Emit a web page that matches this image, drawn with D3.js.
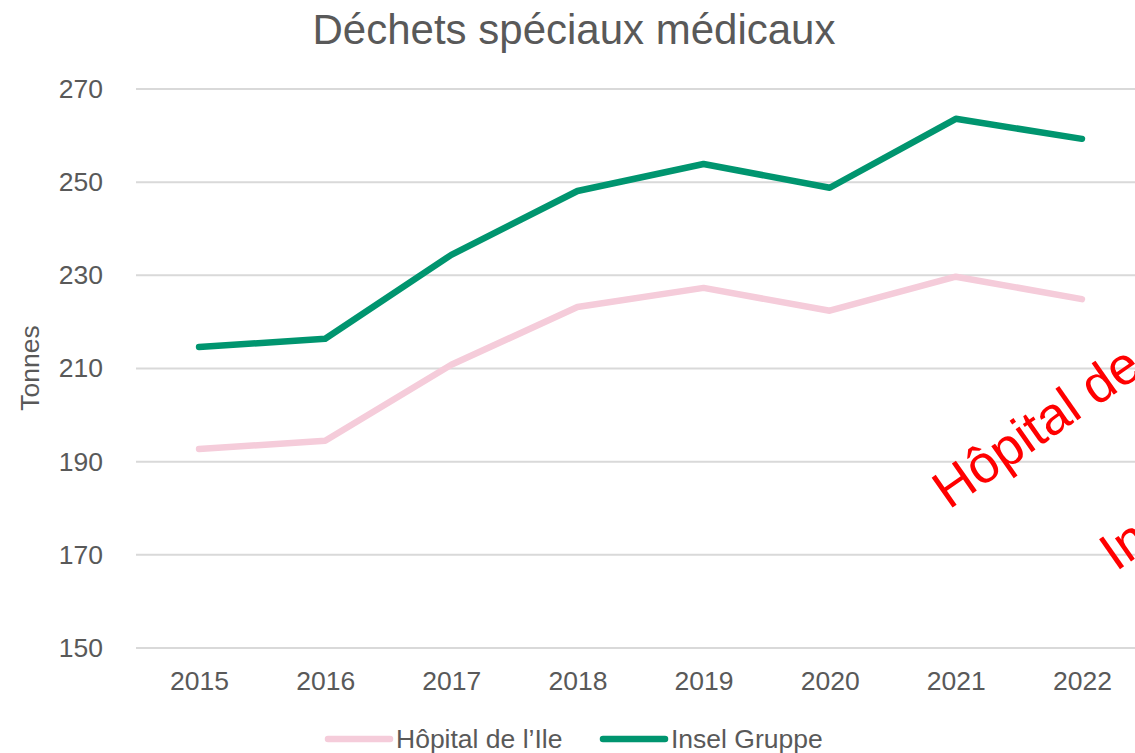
<!DOCTYPE html>
<html>
<head>
<meta charset="utf-8">
<script src="https://cdn.jsdelivr.net/npm/d3@7"></script>
<style>
  html, body { margin: 0; padding: 0; background: #fff; }
  #chart { width: 1135px; height: 753px; overflow: hidden; }
  text { font-family: Arial, "Liberation Sans", sans-serif; }
</style>
</head>
<body>
<div id="chart"></div>
<script>
// data
var years = ["2015", "2016", "2017", "2018", "2019", "2020", "2021", "2022"];
var hopital = [192.7, 194.5, 210.8, 223.2, 227.3, 222.4, 229.7, 224.9];
var insel = [214.6, 216.4, 234.4, 248.1, 253.9, 248.8, 263.6, 259.3];
var yTicks = [150, 170, 190, 210, 230, 250, 270];
var seriesNames = ["Hôpital de l\u2019Ile", "Insel Gruppe"];
var seriesColors = ["#F5CCDA", "#00956F"];

var width = 1135, height = 753;
var margin = {top: 89, right: -10, bottom: 105, left: 136};

var svg = d3.select("#chart").append("svg")
    .attr("width", width)
    .attr("height", height);

// scales
var x = d3.scalePoint()
    .domain(years)
    .range([margin.left, width - margin.right])
    .padding(0.5);
var y = d3.scaleLinear()
    .domain([150, 270])
    .range([height - margin.bottom, margin.top]);

// gridlines
svg.append("g")
    .selectAll("line")
    .data(yTicks)
  .enter().append("line")
    .attr("x1", margin.left)
    .attr("x2", width - margin.right)
    .attr("y1", function(d) { return y(d); })
    .attr("y2", function(d) { return y(d); })
    .attr("stroke", "#D9D9D9")
    .attr("stroke-width", 2);

// y axis labels
var yAxis = svg.append("g")
    .attr("transform", "translate(" + (margin.left - 33) + ",0)")
    .call(d3.axisLeft(y).tickValues(yTicks).tickSize(0).tickPadding(0));
yAxis.select(".domain").remove();
yAxis.selectAll("text")
    .attr("fill", "#595959")
    .style("font-size", "26.5px");

// x axis labels
var xAxis = svg.append("g")
    .attr("transform", "translate(0," + (height - margin.bottom + 23) + ")")
    .call(d3.axisBottom(x).tickSize(0).tickPadding(0));
xAxis.select(".domain").remove();
xAxis.selectAll("text")
    .attr("fill", "#595959")
    .style("font-size", "26.5px");

// title
svg.append("text")
    .attr("x", 574)
    .attr("y", 44)
    .attr("text-anchor", "middle")
    .attr("fill", "#595959")
    .style("font-size", "42px")
    .text("Déchets spéciaux médicaux");

// y axis title
svg.append("text")
    .attr("transform", "translate(39,368) rotate(-90)")
    .attr("text-anchor", "middle")
    .attr("fill", "#595959")
    .style("font-size", "26.5px")
    .text("Tonnes");

// lines
var line = d3.line()
    .x(function(d, i) { return x(years[i]); })
    .y(function(d) { return y(d); });

[hopital, insel].forEach(function(s, i) {
  svg.append("path")
      .datum(s)
      .attr("fill", "none")
      .attr("stroke", seriesColors[i])
      .attr("stroke-width", 6.5)
      .attr("stroke-linejoin", "round")
      .attr("stroke-linecap", "round")
      .attr("d", line);
});

// stray red labels, cut off by the right edge
var redLabels = [
  {name: seriesNames[0], x: 949, y: 510},
  {name: seriesNames[1], x: 1116, y: 572}
];
svg.append("g")
    .selectAll("text")
    .data(redLabels)
  .enter().append("text")
    .attr("transform", function(d) { return "translate(" + d.x + "," + d.y + ") rotate(-35)"; })
    .attr("fill", "#FF0000")
    .style("font-size", "53px")
    .text(function(d) { return d.name; });

// legend
var legendX = [328, 603];
var legend = svg.append("g")
    .selectAll("g")
    .data(seriesNames)
  .enter().append("g")
    .attr("transform", function(d, i) { return "translate(" + legendX[i] + ",739)"; });
legend.append("line")
    .attr("x1", 0).attr("x2", 62)
    .attr("stroke", function(d, i) { return seriesColors[i]; })
    .attr("stroke-width", 6.5)
    .attr("stroke-linecap", "round");
legend.append("text")
    .attr("x", 68)
    .attr("y", 9)
    .attr("fill", "#595959")
    .style("font-size", "26.5px")
    .text(function(d) { return d; });
</script>
</body>
</html>
